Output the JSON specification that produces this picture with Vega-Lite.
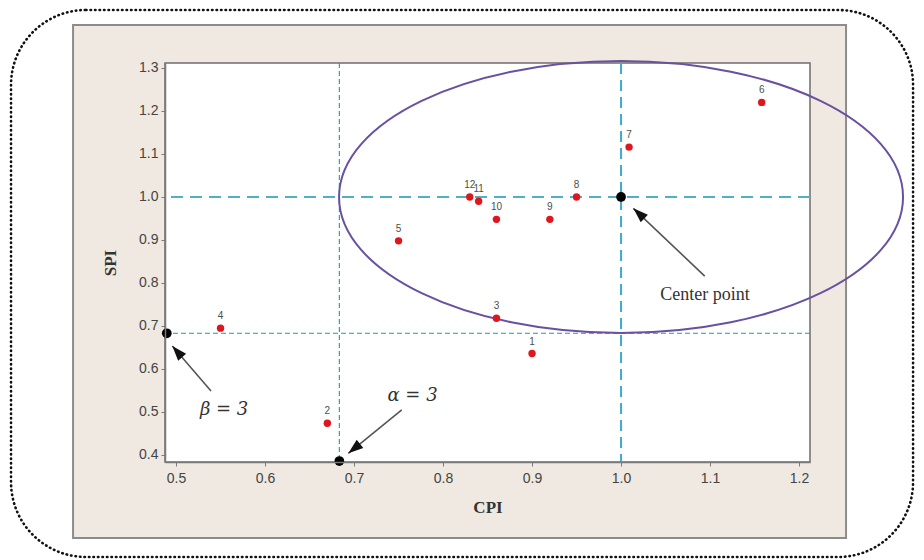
{
  "$schema": "https://vega.github.io/schema/vega-lite/v6.json",
  "width": 645,
  "height": 399,
  "autosize": {"type": "none"},
  "padding": {"left": 165, "top": 63, "right": 114, "bottom": 98},
  "background": "white",
  "data": {"values": [{"frame": "view"}]},
  "config": {
    "view": {"stroke": null, "fill": null},
    "axis": {
      "grid": false,
      "zindex": 2,
      "domainColor": "#7a7a7a",
      "domainWidth": 1.5,
      "tickColor": "#7a7a7a",
      "tickSize": 4,
      "labelFont": "Liberation Sans",
      "labelFontSize": 14,
      "labelColor": "#444444",
      "titleFont": "Liberation Serif",
      "titleFontWeight": "bold",
      "titleFontSize": 17,
      "titleColor": "#333333"
    }
  },
  "datasets": {
    "projects": [
      {"id": "1", "cpi": 0.90, "spi": 0.636},
      {"id": "2", "cpi": 0.67, "spi": 0.474},
      {"id": "3", "cpi": 0.86, "spi": 0.718},
      {"id": "4", "cpi": 0.55, "spi": 0.695},
      {"id": "5", "cpi": 0.75, "spi": 0.898},
      {"id": "6", "cpi": 1.158, "spi": 1.22},
      {"id": "7", "cpi": 1.009, "spi": 1.116},
      {"id": "8", "cpi": 0.95, "spi": 1.0},
      {"id": "9", "cpi": 0.92, "spi": 0.948},
      {"id": "10", "cpi": 0.86, "spi": 0.948},
      {"id": "11", "cpi": 0.84, "spi": 0.99},
      {"id": "12", "cpi": 0.83, "spi": 1.0}
    ],
    "special": [
      {"name": "Center point", "cpi": 1.0, "spi": 1.0},
      {"name": "alpha", "cpi": 0.6835, "spi": 0.386},
      {"name": "beta", "cpi": 0.4896, "spi": 0.683}
    ],
    "arrows": [
      {"name": "center", "from_cpi": 1.094, "from_spi": 0.816, "to_cpi": 1.0138, "to_spi": 0.9737},
      {"name": "beta", "from_cpi": 0.5393, "from_spi": 0.5488, "to_cpi": 0.4958, "to_spi": 0.6535},
      {"name": "alpha", "from_cpi": 0.7536, "from_spi": 0.505, "to_cpi": 0.6936, "to_spi": 0.404}
    ],
    "notes": [
      {"text": "Center point", "cpi": 1.0944, "spi": 0.772, "kind": "plain"},
      {"text": "β = 3", "cpi": 0.554, "spi": 0.5047, "kind": "math"},
      {"text": "α = 3", "cpi": 0.7657, "spi": 0.5365, "kind": "math"}
    ]
  },
  "layer": [
    {
      "data": {"name": "projects"},
      "mark": {"type": "circle", "opacity": 0, "size": 1},
      "encoding": {
        "x": {
          "field": "cpi", "type": "quantitative",
          "scale": {"domain": [0.4876, 1.2123], "nice": false, "zero": false},
          "axis": {"title": "CPI", "zindex": 2, "values": [0.5, 0.6, 0.7, 0.8, 0.9, 1.0, 1.1, 1.2], "format": ".1f", "labelPadding": 5, "titlePadding": 14}
        },
        "y": {
          "field": "spi", "type": "quantitative",
          "scale": {"domain": [0.3837, 1.3116], "nice": false, "zero": false},
          "axis": {"title": "SPI", "zindex": 2, "values": [0.4, 0.5, 0.6, 0.7, 0.8, 0.9, 1.0, 1.1, 1.2, 1.3], "format": ".1f", "labelPadding": 3, "titlePadding": 19}
        }
      }
    },
    {
      "mark": {"type": "rect", "fill": null, "filled": false, "stroke": "#111111", "strokeWidth": 2.6, "strokeDash": [0.5, 4], "strokeCap": "round", "cornerRadius": 75},
      "encoding": {
        "x": {"datum": 0.3146, "type": "quantitative"},
        "x2": {"datum": 1.3281},
        "y": {"datum": 1.4349, "type": "quantitative"},
        "y2": {"datum": 0.1628}
      }
    },
    {
      "mark": {"type": "rect", "fill": "#efe9e1", "stroke": "#8c8c8c", "strokeWidth": 2},
      "encoding": {
        "x": {"datum": 0.3843, "type": "quantitative"},
        "x2": {"datum": 1.2528},
        "y": {"datum": 1.4, "type": "quantitative"},
        "y2": {"datum": 0.207}
      }
    },
    {
      "mark": {"type": "rect", "fill": "white", "stroke": "#6e6e6e", "strokeWidth": 1.5},
      "encoding": {}
    },
    {
      "mark": {"type": "rule", "color": "#14a3a3", "strokeWidth": 1.1, "strokeDash": [5, 3]},
      "encoding": {"x": {"datum": 0.6835, "type": "quantitative"}}
    },
    {
      "mark": {"type": "rule", "color": "#14a3a3", "strokeWidth": 1.1, "strokeDash": [5, 3]},
      "encoding": {"y": {"datum": 0.683, "type": "quantitative"}}
    },
    {
      "mark": {"type": "rule", "color": "#3fa9d6", "strokeWidth": 2, "strokeDash": [11, 6]},
      "encoding": {"x": {"datum": 1.0, "type": "quantitative"}}
    },
    {
      "mark": {"type": "rule", "color": "#4fb0c8", "strokeWidth": 2, "strokeDash": [12, 7]},
      "encoding": {"y": {"datum": 1.0, "type": "quantitative"}}
    },
    {
      "mark": {
        "type": "point",
        "filled": false,
        "fill": null,
        "stroke": "#6a50a0",
        "strokeWidth": 2,
        "opacity": 1,
        "size": 318096,
        "shape": "M1,0C1,0.2664,0.5523,0.4823,0,0.4823C-0.5523,0.4823,-1,0.2664,-1,0C-1,-0.2664,-0.5523,-0.4823,0,-0.4823C0.5523,-0.4823,1,-0.2664,1,0Z"
      },
      "encoding": {
        "x": {"datum": 1.0, "type": "quantitative"},
        "y": {"datum": 1.0, "type": "quantitative"}
      }
    },
    {
      "data": {"name": "arrows"},
      "mark": {"type": "rule", "color": "#555555", "strokeWidth": 1.6},
      "encoding": {
        "x": {"field": "from_cpi", "type": "quantitative"},
        "y": {"field": "from_spi", "type": "quantitative"},
        "x2": {"field": "to_cpi"},
        "y2": {"field": "to_spi"}
      }
    },
    {
      "data": {"name": "arrows"},
      "transform": [{"filter": "datum.name == 'center'"}],
      "mark": {"type": "point", "filled": true, "color": "#111111", "opacity": 1, "size": 900, "angle": 313, "shape": "M0,0L-0.35,1L0.35,1Z"},
      "encoding": {
        "x": {"field": "to_cpi", "type": "quantitative"},
        "y": {"field": "to_spi", "type": "quantitative"}
      }
    },
    {
      "data": {"name": "arrows"},
      "transform": [{"filter": "datum.name == 'beta'"}],
      "mark": {"type": "point", "filled": true, "color": "#111111", "opacity": 1, "size": 900, "angle": 319, "shape": "M0,0L-0.35,1L0.35,1Z"},
      "encoding": {
        "x": {"field": "to_cpi", "type": "quantitative"},
        "y": {"field": "to_spi", "type": "quantitative"}
      }
    },
    {
      "data": {"name": "arrows"},
      "transform": [{"filter": "datum.name == 'alpha'"}],
      "mark": {"type": "point", "filled": true, "color": "#111111", "opacity": 1, "size": 900, "angle": 231, "shape": "M0,0L-0.35,1L0.35,1Z"},
      "encoding": {
        "x": {"field": "to_cpi", "type": "quantitative"},
        "y": {"field": "to_spi", "type": "quantitative"}
      }
    },
    {
      "data": {"name": "projects"},
      "mark": {"type": "circle", "color": "#e0161e", "opacity": 1, "size": 55},
      "encoding": {
        "x": {"field": "cpi", "type": "quantitative"},
        "y": {"field": "spi", "type": "quantitative"}
      }
    },
    {
      "data": {"name": "projects"},
      "mark": {"type": "text", "dy": -12, "fontSize": 10, "font": "Liberation Sans", "color": "#46524a"},
      "encoding": {
        "x": {"field": "cpi", "type": "quantitative"},
        "y": {"field": "spi", "type": "quantitative"},
        "text": {"field": "id"}
      }
    },
    {
      "data": {"name": "special"},
      "mark": {"type": "circle", "color": "#000000", "opacity": 1, "size": 95},
      "encoding": {
        "x": {"field": "cpi", "type": "quantitative"},
        "y": {"field": "spi", "type": "quantitative"}
      }
    },
    {
      "data": {"name": "notes"},
      "transform": [{"filter": "datum.kind == 'plain'"}],
      "mark": {"type": "text", "font": "Liberation Serif", "fontSize": 18, "color": "#333333"},
      "encoding": {
        "x": {"field": "cpi", "type": "quantitative"},
        "y": {"field": "spi", "type": "quantitative"},
        "text": {"field": "text"}
      }
    },
    {
      "data": {"name": "notes"},
      "transform": [{"filter": "datum.kind == 'math'"}],
      "mark": {"type": "text", "font": "DejaVu Serif", "fontStyle": "italic", "fontSize": 18, "color": "#333333"},
      "encoding": {
        "x": {"field": "cpi", "type": "quantitative"},
        "y": {"field": "spi", "type": "quantitative"},
        "text": {"field": "text"}
      }
    }
  ]
}
